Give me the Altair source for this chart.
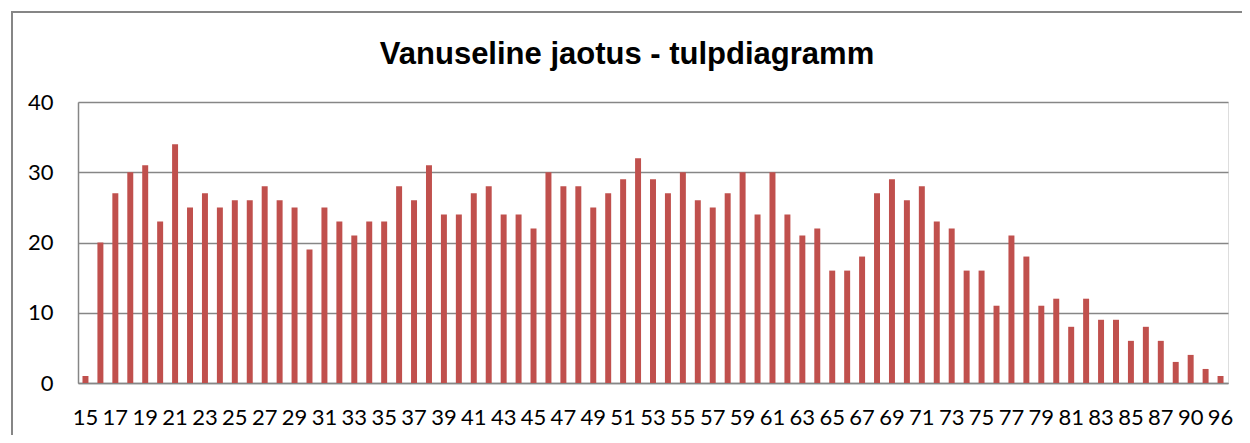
import altair as alt
import pandas as pd

ages = [str(a) for a in range(15, 89)] + ["90", "92", "96"]
counts = [1, 20, 27, 30, 31, 23, 34, 25, 27, 25, 26, 26, 28, 26, 25, 19, 25, 23, 21, 23,
          23, 28, 26, 31, 24, 24, 27, 28, 24, 24, 22, 30, 28, 28, 25, 27, 29, 32, 29, 27,
          30, 26, 25, 27, 30, 24, 30, 24, 21, 22, 16, 16, 18, 27, 29, 26, 28, 23, 22, 16,
          16, 11, 21, 18, 11, 12, 8, 12, 9, 9, 6, 8, 6, 3, 4, 2, 1]
tick_labels = [str(a) for a in range(15, 88, 2)] + ["90", "96"]
y_ticks = [0, 10, 20, 30, 40]

df = pd.DataFrame({"age": ages, "count": counts})

FONT = "Lato"
GRID = "#868686"

bars = alt.Chart(df).mark_bar(color="#C0504D").encode(
    x=alt.X("age:N", sort=ages,
            scale=alt.Scale(paddingInner=0.6, paddingOuter=0.3),
            axis=alt.Axis(title=None, values=tick_labels, labelAngle=0, ticks=False,
                          labelOverlap=False, labelPadding=24, labelFontSize=22,
                          labelFont=FONT, labelColor="#000000",
                          domainColor=GRID, domainWidth=1.5)),
    y=alt.Y("count:Q",
            scale=alt.Scale(domain=[0, 40]),
            axis=alt.Axis(title=None, values=y_ticks, ticks=False, labelPadding=25,
                          labelFontSize=22, labelFont=FONT, labelColor="#000000",
                          gridColor=GRID, gridWidth=1.5, domainColor=GRID,
                          domainWidth=1.5)),
)

frame = alt.Chart(df).mark_rect(fill=None, stroke=GRID, strokeWidth=2).encode(
    x=alt.value(-66), x2=alt.value(1300), y=alt.value(-90), y2=alt.value(400)
)

chart = alt.layer(frame, bars).properties(
    width=1150, height=281,
    title=alt.TitleParams("Vanuseline jaotus - tulpdiagramm", font="Liberation Sans",
                          fontSize=31, fontWeight="bold", color="#000000",
                          anchor="middle", frame="group", baseline="alphabetic",
                          dx=-26, offset=-84),
    autosize=alt.AutoSizeParams(type="none"),
    padding={"left": 70, "top": 94, "right": 14, "bottom": 52},
).configure_view(stroke=None).configure(background="white")

chart.save("out.html", embed_options={"renderer": "svg", "actions": False})
